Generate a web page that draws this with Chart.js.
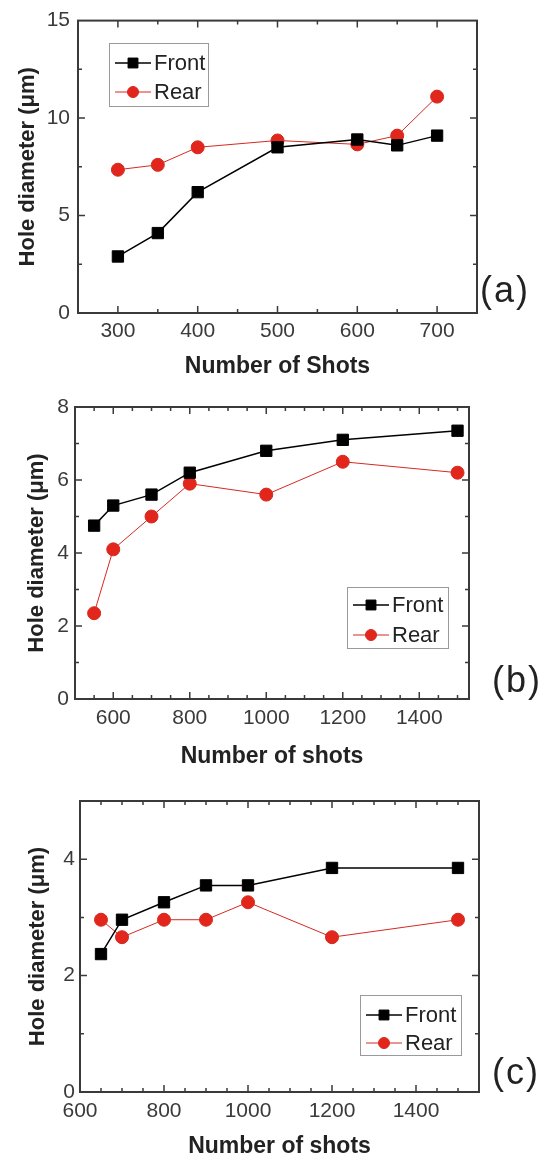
<!DOCTYPE html>
<html>
<head>
<meta charset="utf-8">
<title>Hole diameter vs number of shots</title>
<script src="https://cdn.jsdelivr.net/npm/chart.js@4.4.1/dist/chart.umd.min.js"></script>
<style>
    html, body { margin: 0; padding: 0; background: #fff; }
    #page { position: relative; width: 544px; height: 1160px; overflow: hidden; }
    #page canvas { position: absolute; left: 0; }
    .tag { position: absolute; font: 36px "Liberation Sans", Arial, sans-serif; line-height: 36px; color: #222; letter-spacing: 2px; }
</style>
</head>
<body>
<div id="page">
    <canvas id="chart-a" width="544" height="380" style="top:0px"></canvas>
    <canvas id="chart-b" width="544" height="390" style="top:380px"></canvas>
    <canvas id="chart-c" width="544" height="390" style="top:770px"></canvas>
    <div class="tag" style="left:480px;top:272px">(a)</div>
    <div class="tag" style="left:492px;top:662px">(b)</div>
    <div class="tag" style="left:492px;top:1054px">(c)</div>
</div>
<script>
// Panel (a)
var shotsA = [300, 350, 400, 500, 600, 650, 700];
var frontA = [2.9, 4.1, 6.2, 8.5, 8.9, 8.6, 9.1];
var rearA = [7.35, 7.6, 8.5, 8.85, 8.65, 9.1, 11.1];
var xTicksA = [300, 400, 500, 600, 700];
var yTicksA = [0, 5, 10, 15];

// Panel (b)
var shotsB = [550, 600, 700, 800, 1000, 1200, 1500];
var frontB = [4.75, 5.3, 5.6, 6.2, 6.8, 7.1, 7.35];
var rearB = [2.35, 4.1, 5.0, 5.9, 5.6, 6.5, 6.2];
var xTicksB = [600, 800, 1000, 1200, 1400];
var yTicksB = [0, 2, 4, 6, 8];

// Panel (c)
var shotsC = [650, 700, 800, 900, 1000, 1200, 1500];
var frontC = [2.37, 2.96, 3.26, 3.55, 3.55, 3.85, 3.85];
var rearC = [2.96, 2.66, 2.96, 2.96, 3.26, 2.66, 2.96];
var xTicksC = [600, 800, 1000, 1200, 1400];
var yTicksC = [0, 2, 4];

var FONT = "'Liberation Sans', Arial, sans-serif";
Chart.defaults.font.family = FONT;
Chart.defaults.color = "#3a3a3a";


// Walk major + minor tick values of a scale (edges skipped, the frame covers them)
function eachTick(scale, minorStep, cb) {
    var major = scale.ticks.map(function (t) { return t.value; });
    for (var v = Math.ceil(scale.min / minorStep) * minorStep; v < scale.max; v += minorStep) {
        if (v <= scale.min) continue;
        cb(v, major.indexOf(v) >= 0 ? 7 : 4);
    }
}

// Box frame with inward ticks on all four sides
var frameTicks = {
    id: "frameTicks",
    beforeDatasetsDraw: function (chart, args, opts) {
        var ctx = chart.ctx, area = chart.chartArea;
        var xs = chart.scales.x, ys = chart.scales.y;
        ctx.save();
        ctx.strokeStyle = "#3a3a3a";
        ctx.lineWidth = 1.5;
        ctx.beginPath();
        eachTick(xs, opts.xMinor, function (v, len) {
            var px = xs.getPixelForValue(v);
            ctx.moveTo(px, area.bottom); ctx.lineTo(px, area.bottom - len);
            ctx.moveTo(px, area.top); ctx.lineTo(px, area.top + len);
        });
        eachTick(ys, opts.yMinor, function (v, len) {
            var py = ys.getPixelForValue(v);
            ctx.moveTo(area.left, py); ctx.lineTo(area.left + len, py);
            ctx.moveTo(area.right, py); ctx.lineTo(area.right - len, py);
        });
        ctx.stroke();
        ctx.lineWidth = 2;
        ctx.strokeRect(area.left, area.top, area.right - area.left, area.bottom - area.top);
        ctx.restore();
    }
};

// Legend in a framed box inside the plot, line drawn through the marker
var boxLegend = {
    id: "boxLegend",
    afterDatasetsDraw: function (chart, args, opts) {
        var ctx = chart.ctx;
        ctx.save();
        ctx.fillStyle = "#fff";
        ctx.fillRect(opts.left, opts.top, opts.width, opts.height);
        ctx.strokeStyle = "#9a9a9a";
        ctx.lineWidth = 1;
        ctx.strokeRect(opts.left + 0.5, opts.top + 0.5, opts.width, opts.height);
        ctx.font = "22px " + FONT;
        ctx.textBaseline = "middle";
        chart.data.datasets.forEach(function (ds, i) {
            var y = opts.top + opts.rows[i];
            ctx.strokeStyle = ds.borderColor;
            ctx.lineWidth = ds.borderWidth;
            ctx.beginPath();
            ctx.moveTo(opts.left + 6, y);
            ctx.lineTo(opts.left + 42, y);
            ctx.stroke();
            ctx.fillStyle = ds.pointBackgroundColor;
            ctx.strokeStyle = ds.pointBorderColor;
            ctx.lineWidth = 1;
            Chart.helpers.drawPoint(ctx, {
                pointStyle: ds.pointStyle, radius: ds.pointRadius - 1, rotation: 0, borderWidth: 1
            }, opts.left + 24, y);
            ctx.fillStyle = "#222";
            ctx.fillText(ds.label, opts.left + 45, y + 1);
        });
        ctx.restore();
    }
};

function series(label, shots, values, line, fill, style, radius, width) {
    return {
        label: label,
        data: shots.map(function (s, i) { return {x: s, y: values[i]}; }),
        borderColor: line,
        borderWidth: width,
        pointStyle: style,
        pointRadius: radius,
        pointBackgroundColor: fill,
        pointBorderColor: line,
        pointBorderWidth: 1,
        tension: 0,
        fill: false
    };
}

function holeChart(id, shots, front, rear, xTicks, yTicks, p) {
    return new Chart(document.getElementById(id), {
        type: "line",
        data: {
            datasets: [
                series("Front", shots, front, "#000", "#000", "rect", 8, 1.5),
                series("Rear", shots, rear, "#d42a20", "#e3261c", "circle", 6.5, 1)
            ]
        },
        options: {
            responsive: false,
            animation: false,
            events: [],
            layout: {padding: {top: p.top, right: 544 - p.right, left: 0, bottom: 0}},
            plugins: {
                legend: {display: false},
                tooltip: {enabled: false},
                frameTicks: {xMinor: p.xMinor, yMinor: p.yMinor},
                boxLegend: p.legend
            },
            scales: {
                x: {
                    type: "linear",
                    min: p.xMin,
                    max: p.xMax,
                    afterBuildTicks: function (s) { s.ticks = xTicks.map(function (v) { return {value: v}; }); },
                    afterFit: function (s) { s.height = p.height - p.bottom; },
                    grid: {display: false, drawTicks: false},
                    border: {display: false},
                    ticks: {
                        padding: p.xPad, autoSkip: false, maxRotation: 0,
                        font: {size: 21},
                        callback: function (v) { return String(v); }
                    },
                    title: {display: true, text: p.xTitle, color: "#222", padding: 0,
                            font: {size: 23, weight: "bold"}}
                },
                y: {
                    type: "linear",
                    min: 0,
                    max: p.yMax,
                    afterBuildTicks: function (s) { s.ticks = yTicks.map(function (v) { return {value: v}; }); },
                    afterFit: function (s) { s.width = p.left; },
                    grid: {display: false, drawTicks: false},
                    border: {display: false},
                    ticks: {
                        padding: p.yPad, autoSkip: false,
                        font: {size: 21},
                        callback: function (v) { return String(v); }
                    },
                    title: {display: true, text: "Hole diameter (\u03bcm)", color: "#222",
                            padding: {top: p.yTitlePad, bottom: 0},
                            font: {size: 22, weight: "bold"}}
                }
            }
        },
        plugins: [frameTicks, boxLegend]
    });
}


// Chart (a)
var chartA = holeChart("chart-a", shotsA, frontA, rearA, xTicksA, yTicksA, {
    height: 380, left: 78, right: 477, top: 20, bottom: 313,
    xMin: 250, xMax: 750, yMax: 15, xMinor: 50, yMinor: 2.5,
    xPad: 6, yPad: 8, yTitlePad: 15, xTitle: "Number of Shots",
    legend: {left: 109, top: 43, width: 99, height: 63, rows: [20, 49]}
});

// Chart (b)
var chartB = holeChart("chart-b", shotsB, frontB, rearB, xTicksB, yTicksB, {
    height: 390, left: 75, right: 469, top: 27, bottom: 319,
    xMin: 500, xMax: 1530, yMax: 8, xMinor: 50, yMinor: 1,
    xPad: 7, yPad: 6, yTitlePad: 24, xTitle: "Number of shots",
    legend: {left: 347, top: 207, width: 101, height: 61, rows: [18, 48]}
});

// Chart (c)
var chartC = holeChart("chart-c", shotsC, frontC, rearC, xTicksC, yTicksC, {
    height: 390, left: 80, right: 479, top: 31, bottom: 322,
    xMin: 600, xMax: 1550, yMax: 5, xMinor: 50, yMinor: 1,
    xPad: 7, yPad: 5, yTitlePad: 25, xTitle: "Number of shots",
    legend: {left: 360, top: 225, width: 101, height: 60, rows: [20, 48]}
});
</script>
</body>
</html>
